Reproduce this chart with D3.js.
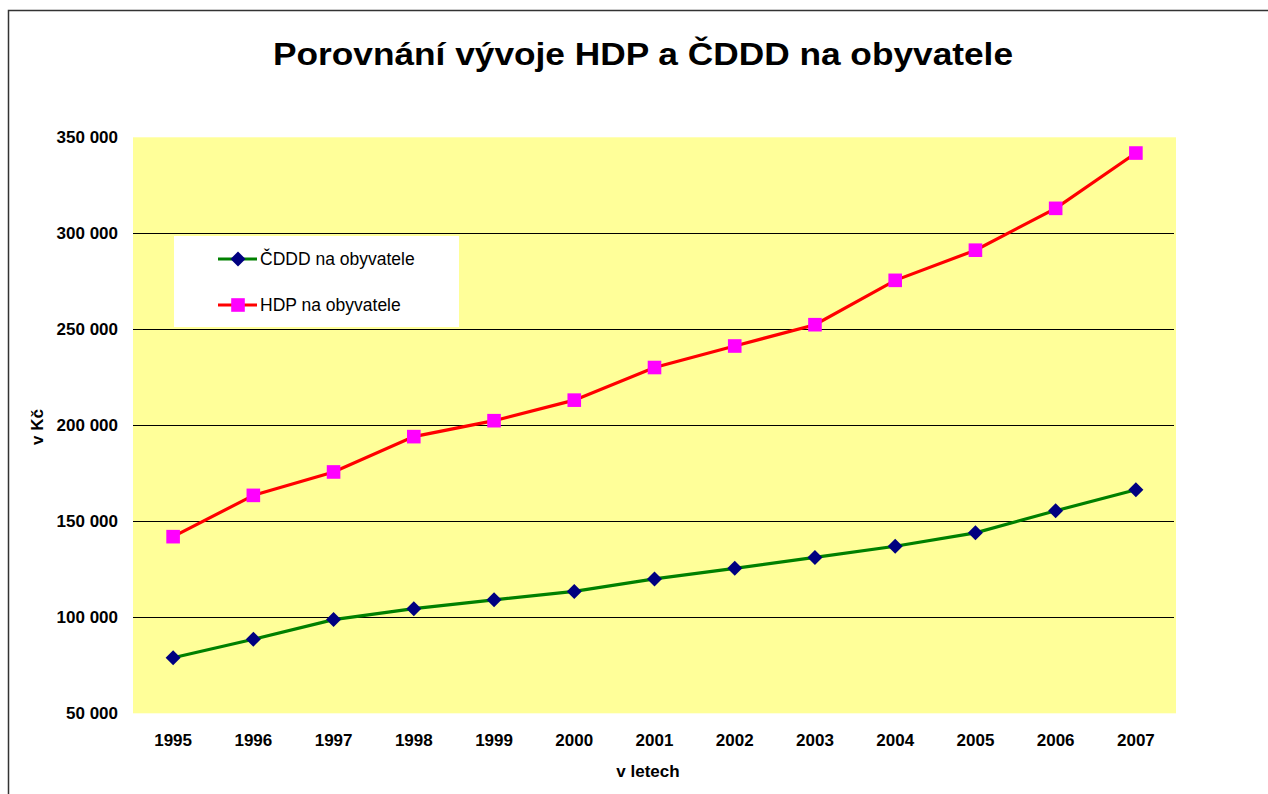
<!DOCTYPE html>
<html><head><meta charset="utf-8">
<script src="https://cdn.jsdelivr.net/npm/d3@7"></script>
<style>body{margin:0;background:#fff;overflow:hidden}svg{display:block}text{font-family:Arial,"Liberation Sans",sans-serif}</style>
</head><body>
<svg id="c" width="1268" height="794"></svg>
<script>
const years = ["1995","1996","1997","1998","1999","2000","2001","2002","2003","2004","2005","2006","2007"];
const cddd = [78900, 88600, 98800, 104500, 109100, 113500, 120000, 125500, 131200, 137000, 144000, 155500, 166400];
const hdp = [142000, 163500, 175700, 194100, 202400, 213100, 230100, 241300, 252400, 275500, 291200, 313000, 341800];
const yTicks = [50000, 100000, 150000, 200000, 250000, 300000, 350000];
const seriesNames = ["ČDDD na obyvatele", "HDP na obyvatele"];
const titleText = "Porovnání vývoje HDP a ČDDD na obyvatele";

const svg = d3.select("#c");
const L = 133, R = 1176, T = 137.3, B = 713.3;
const x = d3.scaleBand().domain(years).range([L, R]);
const y = d3.scaleLinear().domain([50000, 350000]).range([B, T]);

// outer frame
svg.append("rect").attr("x", 8.5).attr("y", 10.5).attr("width", 1300).attr("height", 900)
  .attr("fill", "none").attr("stroke", "#333").attr("stroke-width", 1.5);

// plot area
svg.append("rect").attr("x", L).attr("y", T).attr("width", R - L).attr("height", B - T).attr("fill", "#FFFF99");

// gridlines
svg.append("g").selectAll("line").data(yTicks.filter(v => v > 50000 && v < 350000)).join("line")
  .attr("x1", L).attr("x2", R - 2).attr("y1", d => Math.round(y(d)) + 0.5).attr("y2", d => Math.round(y(d)) + 0.5)
  .attr("stroke", "#000").attr("stroke-width", 1);

const fmt = v => d3.format(",")(v).replace(/,/g, " ");
// y axis
const yAxis = svg.append("g").attr("transform", `translate(${L},0)`)
  .call(d3.axisLeft(y).tickValues(yTicks).tickFormat(fmt).tickSize(0).tickPadding(15));
yAxis.select(".domain").remove();
yAxis.selectAll("text").attr("font-size", 17).attr("font-weight", "bold").attr("fill", "#000")
  .attr("font-family", "Arial, 'Liberation Sans', sans-serif");

// x axis
const xAxis = svg.append("g").attr("transform", `translate(0,${B})`)
  .call(d3.axisBottom(x).tickSize(0).tickPadding(21));
xAxis.select(".domain").remove();
xAxis.selectAll("text").attr("font-size", 17).attr("font-weight", "bold").attr("fill", "#000")
  .attr("font-family", "Arial, 'Liberation Sans', sans-serif");

// title
svg.append("text").attr("x", 643).attr("y", 65).attr("text-anchor", "middle")
  .attr("font-size", 31).attr("font-weight", "bold")
  .attr("textLength", 740).attr("lengthAdjust", "spacingAndGlyphs").text(titleText);

// axis titles
svg.append("text").attr("x", 648).attr("y", 777).attr("text-anchor", "middle")
  .attr("font-size", 17).attr("font-weight", "bold").text("v letech");
svg.append("text").attr("transform", "translate(43,427) rotate(-90)").attr("text-anchor", "middle")
  .attr("font-size", 17).attr("font-weight", "bold").text("v Kč");

const cx = d => x(d) + x.bandwidth() / 2;
const line = d3.line().x((d, i) => cx(years[i])).y(d => y(d));

function drawDiamond(g, px, py) {
  const s = 7.5;
  g.append("path").attr("d", `M${px},${py - s}L${px + s},${py}L${px},${py + s}L${px - s},${py}Z`).attr("fill", "#000080");
}
function drawSquare(g, px, py) {
  const s = 6.8;
  g.append("rect").attr("x", px - s).attr("y", py - s).attr("width", 2 * s).attr("height", 2 * s).attr("fill", "#FF00FF");
}

// HDP series
svg.append("path").datum(hdp).attr("d", line).attr("fill", "none").attr("stroke", "#FF0000").attr("stroke-width", 3.2);
const gH = svg.append("g");
hdp.forEach((v, i) => drawSquare(gH, cx(years[i]), y(v)));

// CDDD series
svg.append("path").datum(cddd).attr("d", line).attr("fill", "none").attr("stroke", "#008000").attr("stroke-width", 3.2);
const gC = svg.append("g");
cddd.forEach((v, i) => drawDiamond(gC, cx(years[i]), y(v)));

// legend
const lg = svg.append("g");
lg.append("rect").attr("x", 174).attr("y", 236).attr("width", 285).attr("height", 91).attr("fill", "#fff");
const rows = [{name: seriesNames[0], col: "#008000", y: 259, m: "d"}, {name: seriesNames[1], col: "#FF0000", y: 305, m: "s"}];
rows.forEach(r => {
  lg.append("line").attr("x1", 218).attr("x2", 257).attr("y1", r.y).attr("y2", r.y).attr("stroke", r.col).attr("stroke-width", 3.2);
  if (r.m === "d") drawDiamond(lg, 238, r.y); else drawSquare(lg, 238, r.y);
  lg.append("text").attr("x", 260).attr("y", r.y + 6).attr("font-size", 17.5).attr("fill", "#000").text(r.name);
});
</script>
</body></html>
